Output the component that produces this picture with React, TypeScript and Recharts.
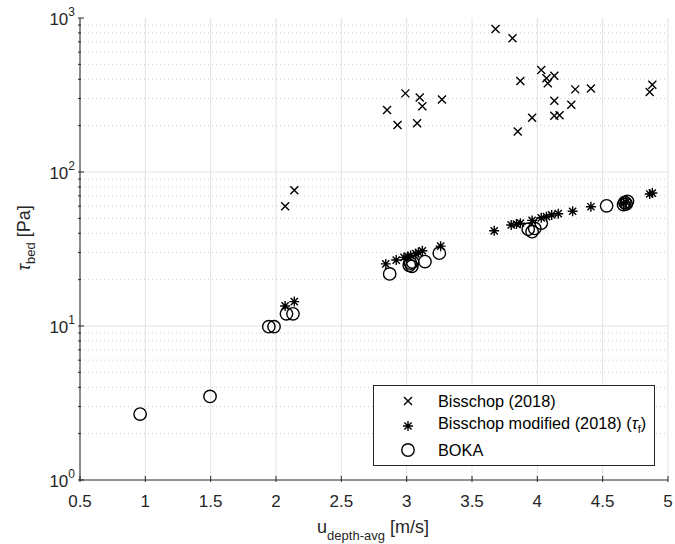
import React from 'react';
import {
  ScatterChart, Scatter, XAxis, YAxis, CartesianGrid, ReferenceLine, Legend
} from 'recharts';

// values
const bisschopU = [2.07, 2.14, 2.85, 2.93, 2.99, 3.08, 3.10, 3.12, 3.27, 3.68, 3.81, 3.85, 3.87, 3.96, 4.03, 4.07, 4.08, 4.13, 4.13, 4.13, 4.17, 4.26, 4.29, 4.41, 4.86, 4.88];
const bisschopTau = [60, 76, 253, 202, 324, 207, 305, 267, 296, 849, 738, 183, 390, 225, 459, 406, 377, 422, 290, 232, 234, 273, 344, 349, 331, 369];

const modU = [2.07, 2.14, 2.84, 2.92, 2.98, 3.01, 3.03, 3.07, 3.09, 3.12, 3.26, 3.67, 3.80, 3.84, 3.87, 3.96, 4.03, 4.07, 4.11, 4.16, 4.27, 4.41, 4.66, 4.68, 4.86, 4.88];
const modTau = [13.5, 14.4, 25.3, 26.8, 27.9, 28.3, 28.7, 29.5, 30.0, 30.8, 33.0, 41.5, 45.3, 45.9, 46.5, 48.5, 50.4, 51.3, 52.6, 53.6, 55.6, 59.5, 62.5, 63.5, 72.0, 73.0];

const bokaU = [0.96, 1.495, 1.945, 1.985, 2.08, 2.13, 2.87, 3.02, 3.03, 3.04, 3.045, 3.14, 3.25, 3.93, 3.96, 3.98, 4.03, 4.53, 4.66, 4.67, 4.68, 4.69];
const bokaTau = [2.68, 3.49, 9.9, 9.9, 12.0, 12.0, 21.8, 24.8, 25.6, 24.4, 26.0, 26.2, 29.7, 42.5, 41.0, 43.0, 46.5, 60.3, 61.5, 63.5, 62.0, 64.5];

const xTicks = [0.5, 1, 1.5, 2, 2.5, 3, 3.5, 4, 4.5, 5];
const decades = [1, 10, 100, 1000];
const minorTicks = [2, 3, 4, 5, 6, 7, 8, 9, 20, 30, 40, 50, 60, 70, 80, 90, 200, 300, 400, 500, 600, 700, 800, 900];
const yTicks = [...decades, ...minorTicks].sort((a, b) => a - b);

const toPts = (u: number[], t: number[]) => u.map((x, i) => ({ u: x, tau: t[i] }));
const bisschop = toPts(bisschopU, bisschopTau);
const modified = toPts(modU, modTau);
const boka = toPts(bokaU, bokaTau);

const AX = "#262626";
const ff = "'Liberation Sans', Arial, sans-serif";

const XMark = ({ cx, cy }: any) => (
  <path d={`M${cx - 4},${cy - 4}L${cx + 4},${cy + 4}M${cx - 4},${cy + 4}L${cx + 4},${cy - 4}`} stroke="#000" strokeWidth={1.4} fill="none" />
);
const StarMark = ({ cx, cy }: any) => {
  const r = 5, d = 3.6;
  return (
    <path d={`M${cx - r},${cy}L${cx + r},${cy}M${cx},${cy - r}L${cx},${cy + r}M${cx - d},${cy - d}L${cx + d},${cy + d}M${cx - d},${cy + d}L${cx + d},${cy - d}`} stroke="#000" strokeWidth={1.4} fill="none" />
  );
};
const OMark = ({ cx, cy }: any) => (
  <circle cx={cx} cy={cy} r={6.2} stroke="#000" strokeWidth={1.4} fill="none" />
);

const BottomTick = ({ x, y, payload }: any) => (
  <g>
    <line x1={x} y1={y} x2={x} y2={y - 6} stroke={AX} />
    <text x={x} y={y + 25} textAnchor="middle" fontSize={17} fill={AX} fontFamily={ff}>{payload.value}</text>
  </g>
);
const TopTick = ({ x, y }: any) => <line x1={x} y1={y} x2={x} y2={y + 6} stroke={AX} />;
const LeftTick = ({ x, y, payload }: any) => {
  const v = payload.value;
  const major = decades.includes(v);
  return (
    <g>
      <line x1={x} y1={y} x2={x + (major ? 6 : 3)} y2={y} stroke={AX} />
      {major && (
        <text x={x - 3} y={y + 7} textAnchor="end" fontSize={17} fill={AX} fontFamily={ff}>
          <tspan>10</tspan>
          <tspan dy={-9} fontSize={12}>{Math.round(Math.log10(v))}</tspan>
        </text>
      )}
    </g>
  );
};
const RightTick = ({ x, y, payload }: any) => {
  const major = decades.includes(payload.value);
  return <line x1={x} y1={y} x2={x - (major ? 6 : 3)} y2={y} stroke={AX} />;
};

const YLabel = () => (
  <text x={30} y={238} transform="rotate(-90 30 238)" textAnchor="middle" fontSize={18} fill={AX} fontFamily={ff}>
    <tspan fontStyle="italic">τ</tspan>
    <tspan fontSize={13} dy={5}>bed</tspan>
    <tspan dy={-5}> [Pa]</tspan>
  </text>
);
const XLabel = () => (
  <text x={373} y={533} textAnchor="middle" fontSize={18} fill={AX} fontFamily={ff}>
    <tspan>u</tspan>
    <tspan fontSize={13} dy={7}>depth-avg</tspan>
    <tspan dy={-7}> [m/s]</tspan>
  </text>
);

const legendRows = [
  { key: 'x', label: <span>Bisschop (2018)</span>, Mark: XMark },
  { key: 's', label: <span>Bisschop modified (2018) (<i>τ</i><sub style={{ fontSize: 11, verticalAlign: "-4px" }}>f</sub>)</span>, Mark: StarMark },
  { key: 'o', label: <span>BOKA</span>, Mark: OMark },
];

const LegendBox = () => (
  <div style={{
    width: 282, height: 81, border: `1px solid ${AX}`, background: "#fff", boxSizing: "border-box",
    padding: "3px 0 0 0", fontFamily: ff, fontSize: 16.3, color: "#000", whiteSpace: "nowrap", lineHeight: "20px"
  }}>
    {legendRows.map(r => (
      <div key={r.key} style={{ display: "flex", alignItems: "center", height: 24.5 }}>
        <svg width={64} height={20} style={{ flexShrink: 0 }}><r.Mark cx={34} cy={10} /></svg>
        {r.label}
      </div>
    ))}
  </div>
);

export default function App() {
  return (
    <div style={{ position: "absolute", left: 0, top: 0, width: 675, height: 544, background: "#fff" }}>
      <ScatterChart width={675} height={544} margin={{ top: 18, right: 7, bottom: 0, left: 0 }}>
        <CartesianGrid horizontal={false} stroke="#e3e3e3" />
        {minorTicks.map(v => (
          <ReferenceLine key={v} y={v} stroke="#cfcfcf" strokeDasharray="1 3" />
        ))}
        <ReferenceLine y={10} stroke="#e3e3e3" />
        <ReferenceLine y={100} stroke="#e3e3e3" />
        <XAxis dataKey="u" type="number" domain={[0.5, 5]} ticks={xTicks} allowDataOverflow
          height={64} tickSize={0} tickLine={false} tick={<BottomTick />} axisLine={{ stroke: AX }} label={<XLabel />} />
        <XAxis xAxisId="top" orientation="top" type="number" domain={[0.5, 5]} ticks={xTicks} allowDataOverflow
          height={0} tickSize={0} tickLine={false} tick={<TopTick />} axisLine={{ stroke: AX }} />
        <YAxis dataKey="tau" type="number" scale="log" domain={[1, 1000]} ticks={yTicks} allowDataOverflow
          width={80} tickSize={0} tickLine={false} tick={<LeftTick />} axisLine={{ stroke: AX }} interval={0} label={<YLabel />} />
        <YAxis yAxisId="right" orientation="right" type="number" scale="log" domain={[1, 1000]} ticks={yTicks} allowDataOverflow
          width={0} tickSize={0} tickLine={false} tick={<RightTick />} axisLine={{ stroke: AX }} interval={0} />
        <Scatter name="Bisschop (2018)" data={bisschop} shape={<XMark />} isAnimationActive={false} />
        <Scatter name="Bisschop modified (2018)" data={modified} shape={<StarMark />} isAnimationActive={false} />
        <Scatter name="BOKA" data={boka} shape={<OMark />} isAnimationActive={false} />
        <Legend layout="vertical" align="center" verticalAlign="middle" content={<LegendBox />}
          wrapperStyle={{ position: "absolute", left: 373, top: 385, width: 282, height: 81 }} />
      </ScatterChart>
    </div>
  );
}
